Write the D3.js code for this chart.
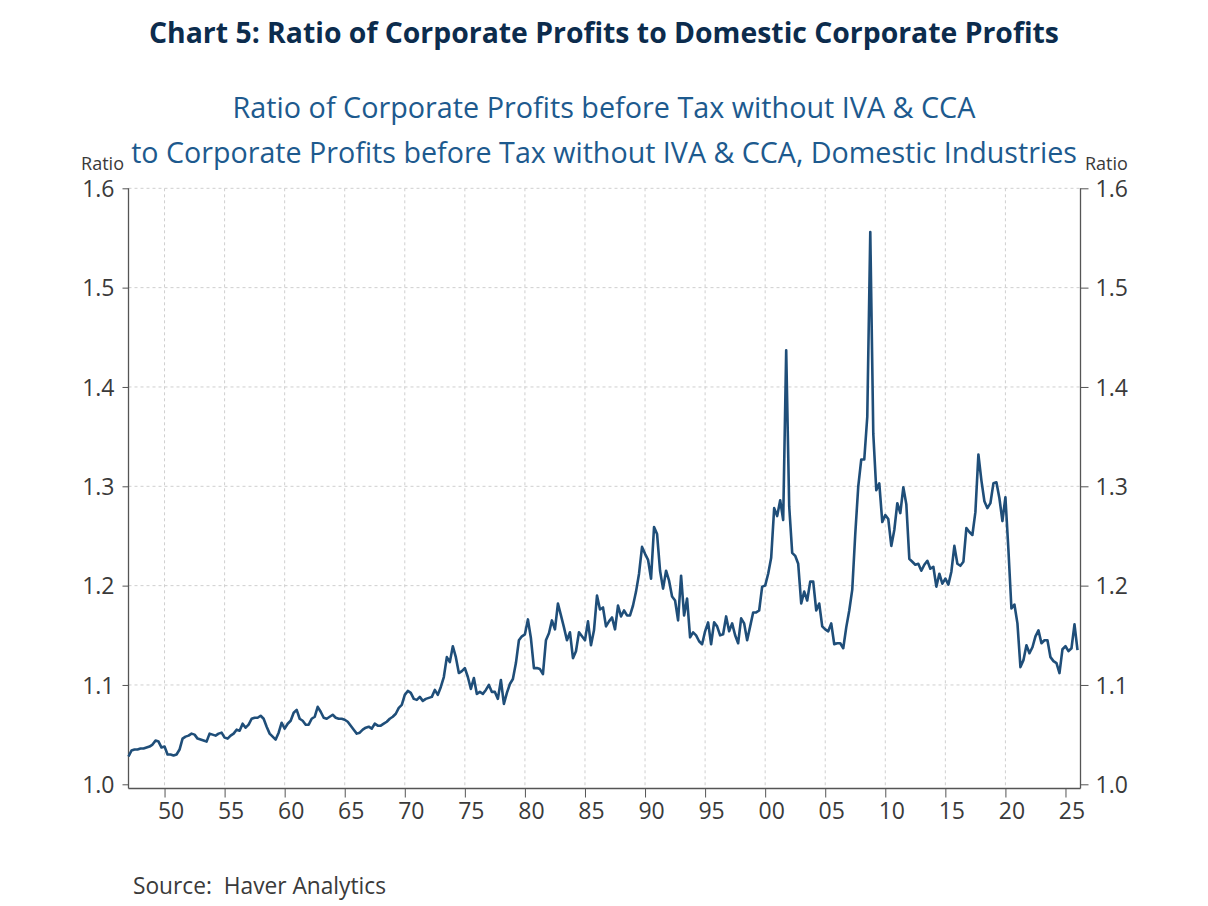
<!DOCTYPE html>
<html>
<head>
<meta charset="utf-8">
<script src="https://cdn.jsdelivr.net/npm/d3@7"></script>
<style>
  body { margin: 0; background: #fff; }
  svg { display: block; font-family: "Open Sans", "Noto Sans", sans-serif; }
</style>
</head>
<body>
<svg id="chart" width="1208" height="906"></svg>
<script>
// quarterly series, first value is 1947 Q1 (one row per year)
const firstYear = 1947;
const ratio = [
  1.028, 1.034, 1.035, 1.035, // 47
  1.036, 1.036, 1.037, 1.038,
  1.040, 1.044, 1.043, 1.037,
  1.038, 1.030, 1.030, 1.029, // 50
  1.030, 1.035, 1.046, 1.048,
  1.049, 1.051, 1.050, 1.046,
  1.045, 1.044, 1.043, 1.051,
  1.050, 1.049, 1.051, 1.052,
  1.047, 1.046, 1.049, 1.051, // 55
  1.055, 1.054, 1.061, 1.057,
  1.060, 1.066, 1.067, 1.067,
  1.069, 1.066, 1.058, 1.051,
  1.048, 1.045, 1.052, 1.062,
  1.056, 1.061, 1.064, 1.072, // 60
  1.075, 1.066, 1.064, 1.060,
  1.060, 1.066, 1.068, 1.078,
  1.073, 1.067, 1.066, 1.068,
  1.070, 1.067, 1.066, 1.066,
  1.065, 1.063, 1.059, 1.055, // 65
  1.051, 1.052, 1.055, 1.057,
  1.058, 1.056, 1.061, 1.059,
  1.059, 1.061, 1.063, 1.066,
  1.068, 1.071, 1.077, 1.080,
  1.090, 1.094, 1.092, 1.086, // 70
  1.085, 1.088, 1.084, 1.086,
  1.087, 1.088, 1.095, 1.090,
  1.098, 1.108, 1.128, 1.123,
  1.139, 1.128, 1.112, 1.114,
  1.117, 1.108, 1.096, 1.107, // 75
  1.091, 1.093, 1.091, 1.095,
  1.100, 1.093, 1.093, 1.086,
  1.105, 1.081, 1.092, 1.101,
  1.106, 1.122, 1.145, 1.149,
  1.151, 1.166, 1.147, 1.117, // 80
  1.117, 1.116, 1.111, 1.145,
  1.152, 1.165, 1.156, 1.182,
  1.170, 1.158, 1.145, 1.153,
  1.127, 1.134, 1.153, 1.149,
  1.145, 1.164, 1.140, 1.155, // 85
  1.190, 1.176, 1.178, 1.159,
  1.164, 1.168, 1.156, 1.180,
  1.169, 1.175, 1.170, 1.170,
  1.180, 1.194, 1.212, 1.239,
  1.232, 1.226, 1.207, 1.259, // 90
  1.252, 1.215, 1.197, 1.215,
  1.205, 1.189, 1.185, 1.165,
  1.210, 1.170, 1.187, 1.148,
  1.153, 1.150, 1.144, 1.141,
  1.154, 1.163, 1.141, 1.163, // 95
  1.159, 1.150, 1.151, 1.169,
  1.154, 1.162, 1.150, 1.142,
  1.167, 1.162, 1.145, 1.159,
  1.173, 1.173, 1.175, 1.199,
  1.200, 1.212, 1.228, 1.278, // 00
  1.270, 1.286, 1.266, 1.437,
  1.280, 1.233, 1.230, 1.222,
  1.182, 1.194, 1.185, 1.204,
  1.204, 1.175, 1.182, 1.159,
  1.156, 1.154, 1.162, 1.141, // 05
  1.142, 1.142, 1.137, 1.158,
  1.175, 1.196, 1.252, 1.300,
  1.327, 1.327, 1.370, 1.556,
  1.353, 1.296, 1.303, 1.264,
  1.271, 1.267, 1.240, 1.256, // 10
  1.283, 1.273, 1.299, 1.282,
  1.227, 1.224, 1.221, 1.222,
  1.215, 1.221, 1.225, 1.217,
  1.219, 1.199, 1.212, 1.202,
  1.207, 1.201, 1.214, 1.240, // 15
  1.222, 1.220, 1.224, 1.258,
  1.254, 1.251, 1.274, 1.332,
  1.306, 1.285, 1.278, 1.283,
  1.303, 1.304, 1.288, 1.265,
  1.289, 1.236, 1.177, 1.181, // 20
  1.162, 1.118, 1.125, 1.140,
  1.132, 1.138, 1.149, 1.155,
  1.142, 1.145, 1.145, 1.128,
  1.124, 1.122, 1.112, 1.136,
  1.139, 1.134, 1.137, 1.161, // 25
  1.135
];
const xTickYears = [1950, 1955, 1960, 1965, 1970, 1975, 1980, 1985, 1990, 1995,
                    2000, 2005, 2010, 2015, 2020, 2025];
const xGridYears = xTickYears.slice(0, -1);
const yTicks = [1.0, 1.1, 1.2, 1.3, 1.4, 1.5, 1.6];

const titleText = "Chart 5: Ratio of Corporate Profits to Domestic Corporate Profits";
const subtitleLines = [
  "Ratio of Corporate Profits before Tax without IVA & CCA",
  "to Corporate Profits before Tax without IVA & CCA, Domestic Industries"
];
const unitLabel = "Ratio";
const sourceText = "Source:  Haver Analytics";

main();

function main() {
  const svg = d3.select("#chart");

  /* layout */
  const plot = { left: 128.5, right: 1080.5, top: 188.3, bottom: 784.3, axisY: 788.5 };

  /* scales */
  const x = d3.scaleLinear().domain([1947, 2026.25]).range([plot.left, plot.right]);
  const y = d3.scaleLinear().domain([1.0, 1.6]).range([plot.bottom, plot.top]);

  const series = ratio.map((v, i) => ({ t: firstYear + i / 4, v }));

  /* titles */
  const title = svg.append("text")
    .attr("x", 604).attr("y", 43)
    .attr("text-anchor", "middle")
    .attr("font-weight", "bold")
    .attr("fill", "#0c2c4d")
    .text(titleText);
  fitWidth(title, 25, 910);

  const subWidths = [743, 946];
  const subY = [118, 163];
  subtitleLines.forEach((s, i) => {
    const t = svg.append("text")
      .attr("x", 604).attr("y", subY[i])
      .attr("text-anchor", "middle")
      .attr("fill", "#1d5a8e")
      .text(s);
    fitWidth(t, 26, subWidths[i]);
  });

  /* grid */
  const grid = svg.append("g").attr("stroke", "#cfcfcf").attr("stroke-dasharray", "3,3").attr("stroke-width", 1);
  grid.selectAll("line.h")
    .data(yTicks.filter((d) => d > 1.0))
    .join("line")
    .attr("x1", plot.left).attr("x2", plot.right)
    .attr("y1", (d) => y(d)).attr("y2", (d) => y(d));
  grid.selectAll("line.v")
    .data(xGridYears)
    .join("line")
    .attr("x1", (d) => x(d)).attr("x2", (d) => x(d))
    .attr("y1", plot.top).attr("y2", plot.axisY);

  /* axes */
  const axisColor = "#555";
  const labelColor = "#3a3a3a";
  const tickFont = 23;

  const xAxis = svg.append("g")
    .attr("transform", `translate(0, ${plot.axisY})`)
    .call(d3.axisBottom(x).tickValues(xTickYears).tickSize(9).tickSizeOuter(0)
      .tickFormat((d) => String(d).slice(2)));
  styleAxis(xAxis, axisColor);
  xAxis.selectAll(".tick text")
    .attr("x", 6).attr("y", 14)
    .attr("font-size", tickFont).attr("fill", labelColor);

  const yLeft = svg.append("g")
    .attr("transform", `translate(${plot.left}, 0)`)
    .call(d3.axisLeft(y).tickValues(yTicks).tickSize(6).tickFormat(d3.format(".1f")));
  styleAxis(yLeft, axisColor);
  yLeft.selectAll(".tick text")
    .attr("x", -14).attr("dy", "0.36em").attr("font-size", tickFont).attr("fill", labelColor);

  const yRight = svg.append("g")
    .attr("transform", `translate(${plot.right}, 0)`)
    .call(d3.axisRight(y).tickValues(yTicks).tickSize(8).tickFormat(d3.format(".1f")));
  styleAxis(yRight, axisColor);
  yRight.selectAll(".tick text")
    .attr("x", 15).attr("dy", "0.36em").attr("font-size", tickFont).attr("fill", labelColor);

  // axis frame lines (bottom axis sits a little under the 1.0 level)
  const frame = svg.append("g").attr("stroke", axisColor).attr("stroke-width", 1.3);
  frame.append("line").attr("x1", plot.left).attr("x2", plot.left).attr("y1", plot.top).attr("y2", plot.axisY);
  frame.append("line").attr("x1", plot.right).attr("x2", plot.right).attr("y1", plot.top).attr("y2", plot.axisY);
  frame.append("line").attr("x1", plot.left).attr("x2", plot.right).attr("y1", plot.axisY).attr("y2", plot.axisY);

  svg.append("text")
    .attr("x", 124).attr("y", 170)
    .attr("text-anchor", "end")
    .attr("font-size", 18).attr("fill", labelColor)
    .text(unitLabel);
  svg.append("text")
    .attr("x", 1085).attr("y", 170)
    .attr("font-size", 18).attr("fill", labelColor)
    .text(unitLabel);

  /* line */
  const line = d3.line()
    .x((d) => x(d.t))
    .y((d) => y(d.v));
  svg.append("path")
    .datum(series)
    .attr("fill", "none")
    .attr("stroke", "#1f4e79")
    .attr("stroke-width", 2.6)
    .attr("stroke-linejoin", "round")
    .attr("d", line);

  /* source */
  const src = svg.append("text")
    .attr("x", 133).attr("y", 894)
    .attr("fill", labelColor)
    .style("white-space", "pre")
    .text(sourceText);
  fitWidth(src, 21, 253);
}

function styleAxis(g, color) {
  g.attr("font-family", null).attr("font-size", null);
  g.select(".domain").remove();
  g.selectAll(".tick line").attr("stroke", color);
}

// scale font-size so the text spans about the wanted width
function fitWidth(sel, size, target) {
  sel.attr("font-size", size);
  const w = sel.node().getComputedTextLength();
  if (w > 0) sel.attr("font-size", (size * target / w).toFixed(2));
}
</script>
</body>
</html>
